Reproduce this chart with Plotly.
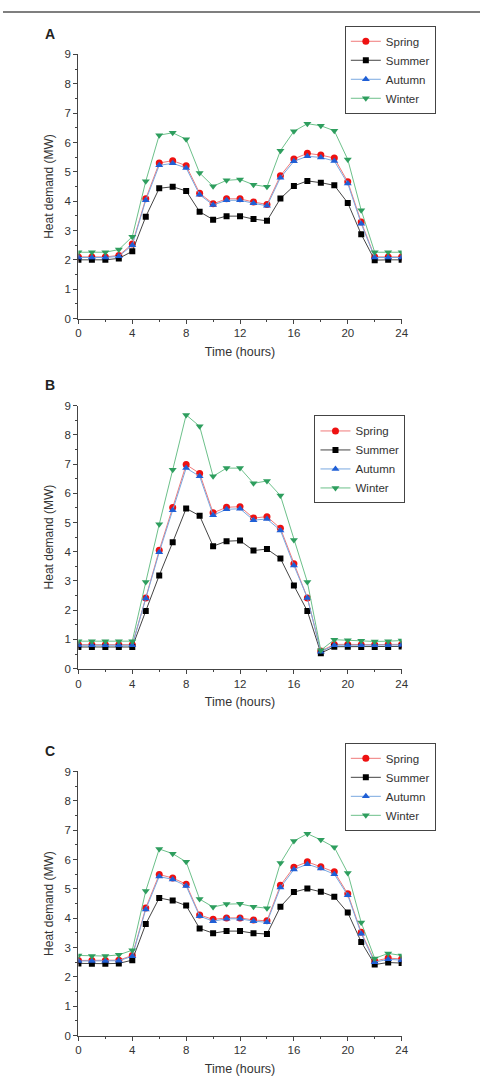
import plotly.graph_objects as go

hours = list(range(25))
seasons = ["Spring", "Summer", "Autumn", "Winter"]

# Panel A
a_spring = [2.10, 2.10, 2.10, 2.15, 2.54, 4.08, 5.30, 5.38, 5.21, 4.27, 3.91, 4.08, 4.08, 3.97, 3.89, 4.87, 5.44, 5.63, 5.57, 5.47, 4.66, 3.29, 2.10, 2.10, 2.10]
a_summer = [2.00, 2.00, 2.00, 2.05, 2.29, 3.47, 4.44, 4.49, 4.35, 3.64, 3.37, 3.49, 3.49, 3.39, 3.33, 4.09, 4.52, 4.69, 4.63, 4.54, 3.94, 2.87, 1.99, 2.00, 2.00]
a_autumn = [2.08, 2.08, 2.08, 2.12, 2.50, 4.03, 5.22, 5.29, 5.13, 4.22, 3.87, 4.03, 4.03, 3.93, 3.84, 4.80, 5.36, 5.53, 5.49, 5.37, 4.60, 3.23, 2.08, 2.08, 2.08]
a_winter = [2.26, 2.26, 2.26, 2.35, 2.79, 4.68, 6.25, 6.33, 6.11, 4.96, 4.51, 4.71, 4.74, 4.56, 4.49, 5.72, 6.38, 6.64, 6.57, 6.40, 5.42, 3.69, 2.26, 2.26, 2.26]

# Panel B
b_spring = [0.82, 0.82, 0.82, 0.82, 0.82, 2.42, 4.05, 5.51, 6.98, 6.68, 5.33, 5.52, 5.54, 5.15, 5.20, 4.80, 3.59, 2.42, 0.60, 0.83, 0.83, 0.82, 0.82, 0.83, 0.83]
b_summer = [0.74, 0.74, 0.74, 0.74, 0.74, 1.97, 3.19, 4.32, 5.48, 5.23, 4.19, 4.36, 4.38, 4.04, 4.09, 3.77, 2.84, 1.97, 0.53, 0.75, 0.75, 0.74, 0.74, 0.74, 0.76]
b_autumn = [0.80, 0.80, 0.80, 0.80, 0.80, 2.40, 3.98, 5.42, 6.86, 6.58, 5.25, 5.45, 5.47, 5.08, 5.12, 4.73, 3.53, 2.42, 0.58, 0.80, 0.80, 0.80, 0.80, 0.80, 0.81]
b_winter = [0.94, 0.94, 0.94, 0.94, 0.94, 2.96, 4.94, 6.80, 8.68, 8.29, 6.58, 6.86, 6.86, 6.34, 6.42, 5.92, 4.40, 2.96, 0.63, 0.99, 0.97, 0.95, 0.93, 0.94, 0.96]

# Panel C
c_spring = [2.56, 2.56, 2.56, 2.57, 2.73, 4.35, 5.49, 5.37, 5.16, 4.11, 3.96, 4.01, 4.01, 3.94, 3.91, 5.12, 5.74, 5.92, 5.75, 5.58, 4.83, 3.52, 2.54, 2.64, 2.61]
c_summer = [2.46, 2.45, 2.45, 2.46, 2.57, 3.80, 4.69, 4.60, 4.43, 3.65, 3.49, 3.56, 3.56, 3.49, 3.46, 4.39, 4.89, 5.01, 4.90, 4.73, 4.19, 3.19, 2.42, 2.49, 2.47]
c_autumn = [2.54, 2.54, 2.54, 2.55, 2.70, 4.30, 5.42, 5.32, 5.10, 4.07, 3.90, 3.98, 3.98, 3.90, 3.86, 5.05, 5.66, 5.84, 5.69, 5.50, 4.78, 3.47, 2.50, 2.60, 2.57]
c_winter = [2.73, 2.71, 2.71, 2.75, 2.91, 4.93, 6.36, 6.20, 5.92, 4.65, 4.38, 4.48, 4.49, 4.39, 4.34, 5.88, 6.63, 6.88, 6.67, 6.42, 5.54, 3.85, 2.63, 2.80, 2.73]

panel_labels = ["A", "B", "C"]
x_ticks = [0, 4, 8, 12, 16, 20, 24]
y_ticks = list(range(10))

panels = [
    [a_spring, a_summer, a_autumn, a_winter],
    [b_spring, b_summer, b_autumn, b_winter],
    [c_spring, c_summer, c_autumn, c_winter],
]

styles = {
    "Spring": dict(line="#f07a7a", marker="#ee1111", symbol="circle", size=7),
    "Summer": dict(line="#444444", marker="#000000", symbol="square", size=6),
    "Autumn": dict(line="#7aa8e0", marker="#1f5fd6", symbol="triangle-up", size=7),
    "Winter": dict(line="#6cc08a", marker="#2e9e5e", symbol="triangle-down", size=7),
}

W, H = 487, 1092
xl, xr = 77, 407
y_pix = [(49, 316), (404, 670), (774, 1041)]
legend_pos = [(349, 20), (318, 414), (349, 745)]
FONT = "Liberation Sans, Arial, sans-serif"

fig = go.Figure()
layout = dict(
    width=W, height=H,
    margin=dict(l=0, r=0, t=0, b=0),
    paper_bgcolor="white", plot_bgcolor="white",
    font=dict(family=FONT, color="#333333"),
    showlegend=True,
)
annotations = []
for i, data in enumerate(panels):
    n = "" if i == 0 else str(i + 1)
    xa, ya = "x" + n, "y" + n
    leg = "legend" + n
    for s, vals in zip(seasons, data):
        st = styles[s]
        fig.add_trace(go.Scatter(
            x=hours, y=vals, name=s, mode="lines+markers",
            xaxis=xa, yaxis=ya, legend=leg,
            line=dict(color=st["line"], width=1),
            marker=dict(color=st["marker"], symbol=st["symbol"], size=st["size"]),
        ))
    top, bot = y_pix[i]
    common_axis = dict(
        showline=True, linecolor="#444444", linewidth=1.2,
        ticks="outside", ticklen=4, tickcolor="#444444", tickwidth=1,
        showgrid=False, zeroline=False,
        tickfont=dict(size=11.5, color="#333333", family=FONT),
    )
    layout["xaxis" + n] = dict(
        common_axis, domain=[xl / W, xr / W], anchor=ya,
        range=[0, 24], tickvals=x_ticks,
        minor=dict(dtick=2, tick0=0, ticks="outside", ticklen=2, tickcolor="#444444"),
        title=dict(text="Time (hours)", font=dict(size=12.5, family=FONT, color="#333333"), standoff=8),
    )
    layout["yaxis" + n] = dict(
        common_axis, domain=[1 - bot / H, 1 - top / H], anchor=xa,
        range=[0, 9], tickvals=y_ticks,
        minor=dict(dtick=0.5, tick0=0, ticks="outside", ticklen=2, tickcolor="#444444"),
        title=dict(text="Heat demand (MW)", font=dict(size=12, family=FONT, color="#333333"), standoff=8),
    )
    lx, ly = legend_pos[i]
    layout[leg] = dict(
        x=lx / W, y=1 - ly / H, xanchor="left", yanchor="top",
        bgcolor="white", bordercolor="#444444", borderwidth=1,
        font=dict(size=11.5, family=FONT, color="#333333"),
        tracegroupgap=0, itemwidth=30,
    )
    annotations.append(dict(
        text="<b>%s</b>" % panel_labels[i], x=48 / W, y=1 - (top - 21) / H,
        xref="paper", yref="paper", xanchor="center", yanchor="middle",
        showarrow=False, font=dict(size=14, family=FONT, color="#222222"),
    ))

layout["annotations"] = annotations
layout["shapes"] = [dict(type="line", xref="paper", yref="paper", x0=0, x1=1,
                         y0=1 - 6 / H, y1=1 - 6 / H, line=dict(color="#555555", width=1.5))]
fig.update_layout(**layout)
fig.write_html("out.html")
